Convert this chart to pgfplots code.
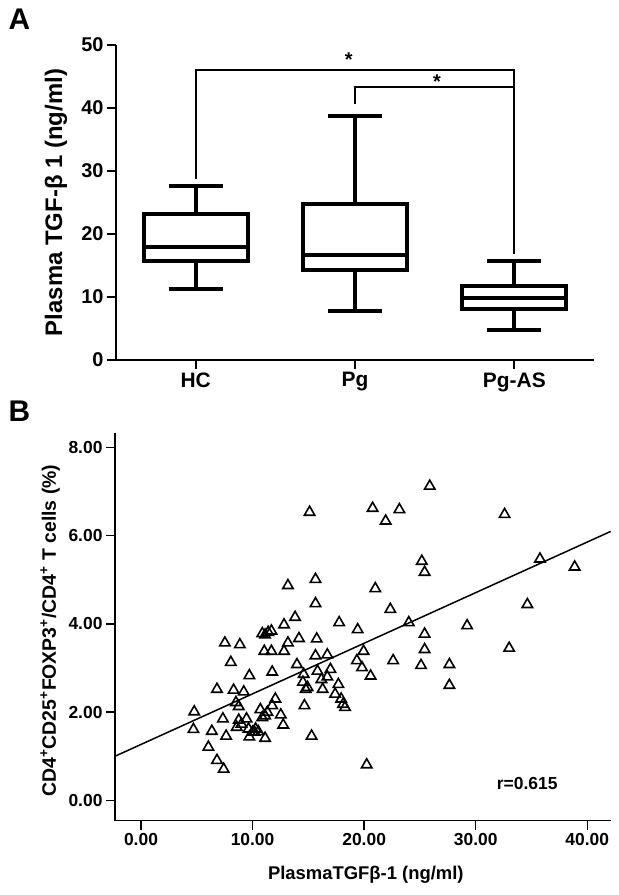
\documentclass[border=0pt]{standalone}
\usepackage{fontspec}
\setmainfont{Liberation Sans}
\usepackage{pgfplots}
\pgfplotsset{compat=1.18}
\pgfplotstableread{
x y
15.11 6.53
20.76 6.62
21.93 6.33
23.16 6.59
25.88 7.12
32.59 6.48
35.76 5.47
38.87 5.29
25.17 5.42
25.42 5.17
13.17 4.87
15.64 5.01
15.64 4.46
21.00 4.80
22.35 4.33
24.00 4.03
34.63 4.44
29.23 3.96
33.00 3.45
25.42 3.77
25.42 3.42
25.10 3.06
27.64 3.08
27.64 2.61
22.60 3.17
20.23 0.81
15.29 1.46
17.76 4.03
19.42 3.87
19.95 3.38
19.35 3.17
19.81 3.01
20.58 2.82
12.82 3.98
13.81 4.15
13.17 3.57
14.16 3.67
12.82 3.38
11.40 3.81
11.69 3.84
10.87 3.78
11.12 3.75
11.05 3.38
11.69 3.38
11.76 2.91
13.98 3.08
14.58 2.86
14.51 2.68
14.76 2.52
14.93 2.56
15.75 3.66
15.64 3.28
16.70 3.30
15.82 2.93
16.17 2.74
16.98 2.97
16.70 2.80
16.28 2.52
17.69 2.63
17.40 2.41
17.94 2.30
18.11 2.18
18.29 2.11
14.65 2.15
7.52 3.57
8.86 3.53
8.05 3.13
9.71 2.83
6.81 2.52
8.30 2.50
9.21 2.46
8.51 2.22
8.76 2.13
12.04 2.30
11.76 2.15
12.53 1.94
12.75 1.71
10.70 2.06
11.33 2.00
11.12 1.92
10.87 1.88
9.46 1.85
8.76 1.82
9.00 1.73
8.58 1.66
9.64 1.62
10.27 1.62
10.17 1.55
10.52 1.56
9.71 1.44
11.12 1.41
7.34 1.85
7.63 1.46
6.35 1.57
6.04 1.21
6.81 0.91
7.41 0.71
4.77 2.01
4.70 1.61
10.00 1.55
}\scatterdata

\begin{document}
\begin{tikzpicture}
\path[use as bounding box] (0,0) rectangle (619bp,895bp);
\node[font=\fontsize{30}{32}\selectfont\bfseries] at (19.5bp,876bp) {A};
\node[font=\fontsize{30}{32}\selectfont\bfseries] at (19.5bp,484bp) {B};

\begin{axis}[
  at={(116bp,535bp)}, anchor=south west, scale only axis,
  width=478bp, height=315bp,
  xmin=-0.5, xmax=2.5, ymin=0, ymax=50,
  axis x line*=bottom, axis y line*=left,
  axis line style={line width=2bp},
  tick align=outside, major tick length=9bp,
  tick style={line width=2bp, black},
  xtick={0,1,2}, xticklabels={HC,Pg,Pg-AS},
  ytick={0,10,20,30,40,50},
  /pgf/number format/assume math mode=true,
  yticklabel style={font=\fontsize{20}{22}\selectfont\bfseries},
  xticklabel style={font=\fontsize{21}{23}\selectfont\bfseries},
  ylabel={Plasma TGF-β 1 (ng/ml)},
  ylabel style={at={(axis description cs:-0.1255,0.5)}, anchor=center, font=\fontsize{24}{26}\selectfont\bfseries},
  clip=false,
  box/.style={black, line width=4bp, line join=miter, line cap=butt, no marks},
]
% HC: lw 11.2, lq 15.7, med 18.0, uq 23.2, uw 27.6
\addplot[box] coordinates {(0,15.7) (0.327,15.7) (0.327,23.2) (-0.327,23.2) (-0.327,15.7) (0,15.7)};
\addplot[box] coordinates {(-0.327,18.0) (0.327,18.0)};
\addplot[box] coordinates {(0,23.2) (0,27.6)};
\addplot[box] coordinates {(-0.17,27.6) (0.17,27.6)};
\addplot[box] coordinates {(0,15.7) (0,11.2)};
\addplot[box] coordinates {(-0.17,11.2) (0.17,11.2)};
% Pg: lw 7.7, lq 14.3, med 16.7, uq 24.7, uw 38.8
\addplot[box] coordinates {(1,14.3) (1.327,14.3) (1.327,24.7) (0.673,24.7) (0.673,14.3) (1,14.3)};
\addplot[box] coordinates {(0.673,16.7) (1.327,16.7)};
\addplot[box] coordinates {(1,24.7) (1,38.8)};
\addplot[box] coordinates {(0.83,38.8) (1.17,38.8)};
\addplot[box] coordinates {(1,14.3) (1,7.7)};
\addplot[box] coordinates {(0.83,7.7) (1.17,7.7)};
% Pg-AS: lw 4.8, lq 8.1, med 9.9, uq 11.8, uw 15.7
\addplot[box] coordinates {(2,8.1) (2.327,8.1) (2.327,11.8) (1.673,11.8) (1.673,8.1) (2,8.1)};
\addplot[box] coordinates {(1.673,9.9) (2.327,9.9)};
\addplot[box] coordinates {(2,11.8) (2,15.7)};
\addplot[box] coordinates {(1.83,15.7) (2.17,15.7)};
\addplot[box] coordinates {(2,8.1) (2,4.8)};
\addplot[box] coordinates {(1.83,4.8) (2.17,4.8)};
\draw[line width=2bp] (axis cs:0,28.8) -- (axis cs:0,46.0) -- (axis cs:2,46.0) -- (axis cs:2,16.9);
\draw[line width=2bp] (axis cs:1,40.6) -- (axis cs:1,43.3) -- (axis cs:2,43.3);
\node[font=\fontsize{20}{22}\selectfont\bfseries] at (axis cs:0.96,47.6) {*};
\node[font=\fontsize{20}{22}\selectfont\bfseries] at (axis cs:1.515,44.2) {*};
\end{axis}

\begin{axis}[
  at={(115bp,74.3bp)}, anchor=south west, scale only axis,
  width=495.7bp, height=387.3bp,
  xmin=-2.33, xmax=42.1, ymin=-0.457, ymax=8.315,
  axis x line*=bottom, axis y line*=left,
  axis line style={line width=1.5bp},
  tick align=outside, major tick length=9bp,
  tick style={line width=1.5bp, black},
  xtick={0,10,20,30,40}, ytick={0,2,4,6,8},
  /pgf/number format/.cd, fixed, fixed zerofill, precision=2, assume math mode=true,
  /pgfplots/.cd,
  ticklabel style={font=\fontsize{17.5}{20}\selectfont\bfseries},
  xlabel={PlasmaTGFβ-1 (ng/ml)},
  xlabel style={at={(axis description cs:0.506,-0.140)}, anchor=center, font=\fontsize{18.5}{20}\selectfont\bfseries},
  ylabel={CD4\textsuperscript{+}CD25\textsuperscript{+}FOXP3\textsuperscript{+}/CD4\textsuperscript{+} T cells (\%)},
  ylabel style={at={(axis description cs:-0.131,0.491)}, anchor=center, font=\fontsize{19.5}{21}\selectfont\bfseries},
  clip=false,
]
\addplot[only marks, mark=triangle, mark size=6bp, mark options={line width=1.6bp, black}] table[x=x,y=y] {\scatterdata};
\addplot[black, line width=1.5bp] coordinates {(-2.33,1.003) (42.1,6.095)};
\node[font=\fontsize{17.5}{20}\selectfont\bfseries] at (axis cs:34.62,0.39) {r=0.615};
\end{axis}
\end{tikzpicture}
\end{document}
